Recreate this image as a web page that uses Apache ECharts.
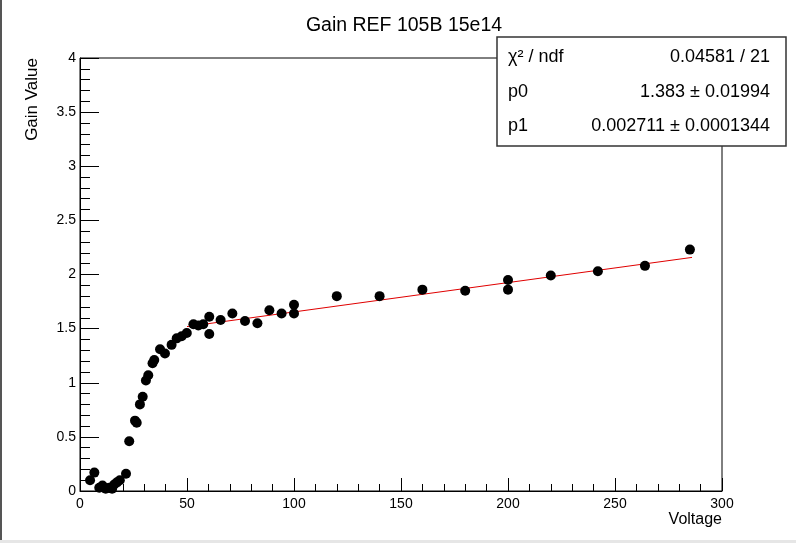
<!DOCTYPE html>
<html>
<head>
<meta charset="utf-8">
<script src="https://cdn.jsdelivr.net/npm/echarts@6/dist/echarts.min.js"></script>
<style>html,body{margin:0;padding:0;background:#fff}#c{width:796px;height:543px}</style>
</head>
<body>
<div id="c"></div>
<script>
var chartTitle = 'Gain REF 105B 15e14';
var xTitle = 'Voltage';
var yTitle = 'Gain Value';
var voltage = [4.7,6.7,9,10.5,12,13.7,15,16,17.3,18.6,21.5,23,25.7,26.5,28,29.3,30.8,31.9,33.9,34.7,37.4,39.7,42.8,45.2,47.5,49.9,53,55.3,57.6,60.4,60.4,65.7,71.2,77.1,82.9,88.5,94.2,100,100,120,140,160,180,200,200,220,242,264,285];
var gain = [0.10,0.17,0.03,0.05,0.02,0.03,0.02,0.06,0.08,0.10,0.16,0.46,0.65,0.63,0.80,0.87,1.02,1.07,1.18,1.21,1.31,1.27,1.35,1.41,1.43,1.46,1.54,1.53,1.54,1.61,1.45,1.58,1.64,1.57,1.55,1.67,1.64,1.72,1.64,1.80,1.80,1.86,1.85,1.95,1.86,1.99,2.03,2.08,2.23];
var fitX = [50, 286];
var fitY = [1.519, 2.158];
var statLabels = ['\u03C7\u00B2 / ndf', 'p0', 'p1'];
var statValues = ['0.04581 / 21', '1.383 \u00B1 0.01994', '0.002711 \u00B1 0.0001344'];

var pts = voltage.map(function(v, i){ return [v, gain[i]]; });
var fit = fitX.map(function(v, i){ return [v, fitY[i]]; });
var FONT = '"Liberation Sans", Arial, sans-serif';

var statGraphics = [{
  type: 'rect', shape: {x: 497, y: 37, width: 289, height: 109},
  style: {fill: '#fff', stroke: '#333', lineWidth: 1.5}, z: 100
}];
var rowY = [57, 92, 126];
statLabels.forEach(function(t, i){
  statGraphics.push({type: 'text', x: 508, y: rowY[i], z: 101,
    style: {text: t, font: '18px ' + FONT, fill: '#000', textAlign: 'left', textVerticalAlign: 'middle'}});
  statGraphics.push({type: 'text', x: 770, y: rowY[i], z: 101,
    style: {text: statValues[i], font: '18px ' + FONT, fill: '#000', textAlign: 'right', textVerticalAlign: 'middle'}});
});
statGraphics.push({type: 'rect', shape: {x: 0, y: 0, width: 2, height: 541}, style: {fill: '#555'}, z: 100});
statGraphics.push({type: 'rect', shape: {x: 0, y: 540, width: 796, height: 3}, style: {fill: '#e6e6e6'}, z: 100});

var chart = echarts.init(document.getElementById('c'), null, {renderer: 'canvas'});
chart.setOption({
  backgroundColor: '#fff',
  animation: false,
  title: {text: chartTitle, left: 399, top: 11, textAlign: 'center',
    textStyle: {fontFamily: FONT, fontSize: 19.5, fontWeight: 'normal', color: '#000'}},
  grid: {left: 80, right: 74, top: 58, bottom: 52, show: true, borderColor: '#000', borderWidth: 1, backgroundColor: 'transparent'},
  xAxis: {
    type: 'value', min: 0, max: 300, interval: 50,
    name: xTitle, nameLocation: 'end', nameGap: 0,
    nameTextStyle: {fontFamily: FONT, fontSize: 16, color: '#000', align: 'right', verticalAlign: 'top', padding: [21, 0, 0, 0]},
    axisLine: {show: true, onZero: false, lineStyle: {color: '#000', width: 1}},
    axisTick: {show: true, inside: true, length: 13, lineStyle: {color: '#000'}},
    minorTick: {show: true, splitNumber: 5, length: 7, lineStyle: {color: '#000'}},
    axisLabel: {fontFamily: FONT, fontSize: 14, color: '#000', margin: 6},
    splitLine: {show: false}
  },
  yAxis: {
    type: 'value', min: 0, max: 4, interval: 0.5,
    name: yTitle, nameLocation: 'end', nameGap: 0, nameRotate: 90,
    nameTextStyle: {fontFamily: FONT, fontSize: 17, color: '#000', align: 'right', verticalAlign: 'bottom', padding: [0, 0, 39, 0]},
    axisLine: {show: true, onZero: false, lineStyle: {color: '#000', width: 1}},
    axisTick: {show: true, inside: true, length: 19, lineStyle: {color: '#000'}},
    minorTick: {show: true, splitNumber: 5, length: 10, lineStyle: {color: '#000'}},
    axisLabel: {fontFamily: FONT, fontSize: 14, color: '#000', margin: 4},
    splitLine: {show: false}
  },
  series: [{
    type: 'line', data: fit, showSymbol: false, symbol: 'none',
    lineStyle: {color: '#e00000', width: 1}, z: 3
  }, {
    type: 'scatter', data: pts, symbol: 'circle', symbolSize: 10,
    itemStyle: {color: '#000', opacity: 1}, z: 4
  }],
  graphic: statGraphics
});
</script>
</body>
</html>
